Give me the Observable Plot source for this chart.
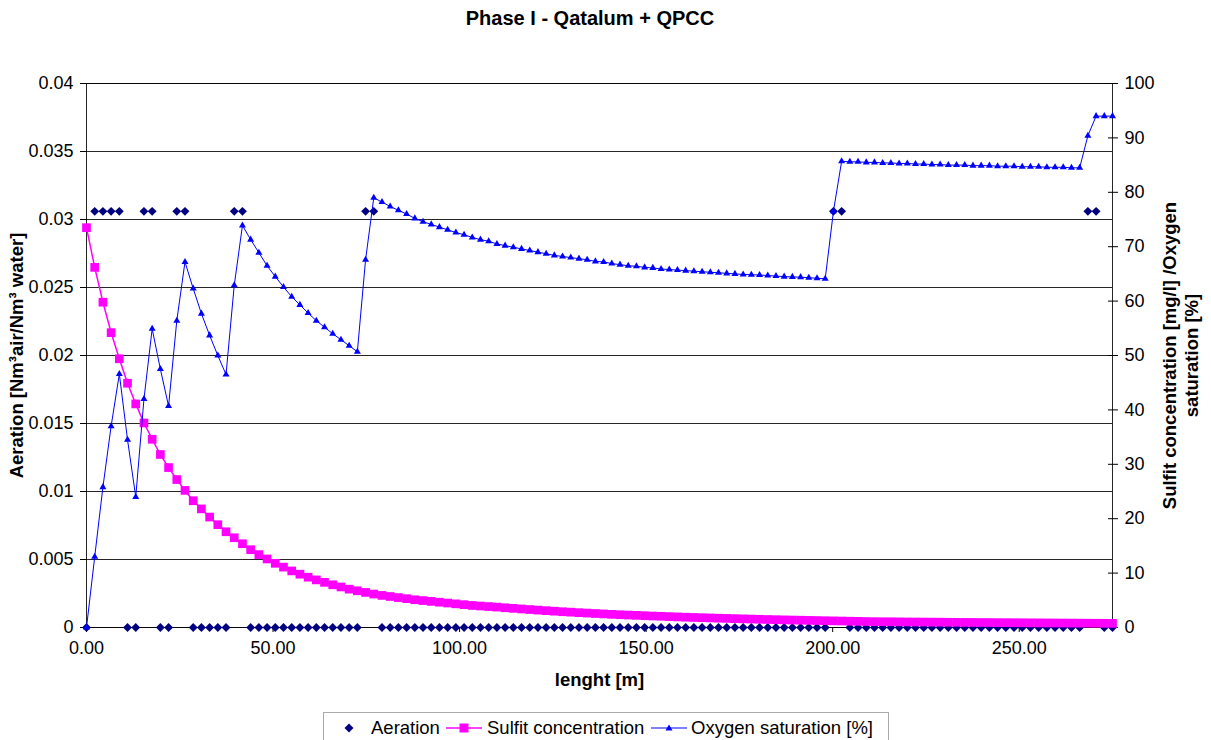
<!DOCTYPE html>
<html><head><meta charset="utf-8">
<script src="https://cdn.jsdelivr.net/npm/d3@7"></script>
<script src="https://cdn.jsdelivr.net/npm/@observablehq/plot@0.6"></script>
<style>
body{margin:0;background:#fff;font-family:"Liberation Sans",Arial,sans-serif;}
#wrap{position:relative;width:1211px;height:740px;overflow:hidden;background:#fff;}
#chart{position:absolute;left:0;top:0;}
#title{position:absolute;top:7px;left:0;width:1180px;text-align:center;font-weight:bold;font-size:20px;color:#000;}
#legend{position:absolute;left:323px;top:712px;width:566px;height:34px;border:1px solid #aaa;box-sizing:border-box;font-size:18.5px;color:#000;}
#legend .it{position:absolute;top:0;height:30px;line-height:30px;white-space:nowrap;}
#legend svg{position:absolute;top:0;}
</style>
</head><body>
<div id="wrap">
  <div id="chart"></div>
  <div id="title"></div>
  <div id="legend"></div>
</div>
<script>
const chartTitle = "Phase I - Qatalum + QPCC";
const xTitle = "lenght [m]";
const leftTitle = "Aeration [Nm³air/Nm³ water]";
const rightTitle = "Sulfit concentration [mg/l] /Oxygen\nsaturation [%]";
const seriesNames = ["Aeration", "Sulfit concentration", "Oxygen saturation [%]"];
const seriesColors = ["#000080", "#FF00FF", "#0000FF"];

const xTicks = [0, 50, 100, 150, 200, 250];
const xTickLabels = ["0.00", "50.00", "100.00", "150.00", "200.00", "250.00"];
const xMax = 275;
const leftTicks = [0, 0.005, 0.01, 0.015, 0.02, 0.025, 0.03, 0.035, 0.04];
const leftTickLabels = ["0", "0.005", "0.01", "0.015", "0.02", "0.025", "0.03", "0.035", "0.04"];
const rightTicks = [0, 10, 20, 30, 40, 50, 60, 70, 80, 90, 100];
const rightTickLabels = ["0", "10", "20", "30", "40", "50", "60", "70", "80", "90", "100"];

const lengths = [
  0, 2.2, 4.4, 6.6, 8.8, 11, 13.2, 15.4, 17.6, 19.8,
  22, 24.2, 26.4, 28.6, 30.8, 33, 35.2, 37.4, 39.6, 41.8,
  44, 46.2, 48.4, 50.6, 52.8, 55, 57.2, 59.4, 61.6, 63.8,
  66, 68.2, 70.4, 72.6, 74.8, 77, 79.2, 81.4, 83.6, 85.8,
  88, 90.2, 92.4, 94.6, 96.8, 99, 101.2, 103.4, 105.6, 107.8,
  110, 112.2, 114.4, 116.6, 118.8, 121, 123.2, 125.4, 127.6, 129.8,
  132, 134.2, 136.4, 138.6, 140.8, 143, 145.2, 147.4, 149.6, 151.8,
  154, 156.2, 158.4, 160.6, 162.8, 165, 167.2, 169.4, 171.6, 173.8,
  176, 178.2, 180.4, 182.6, 184.8, 187, 189.2, 191.4, 193.6, 195.8,
  198, 200.2, 202.4, 204.6, 206.8, 209, 211.2, 213.4, 215.6, 217.8,
  220, 222.2, 224.4, 226.6, 228.8, 231, 233.2, 235.4, 237.6, 239.8,
  242, 244.2, 246.4, 248.6, 250.8, 253, 255.2, 257.4, 259.6, 261.8,
  264, 266.2, 268.4, 270.6, 272.8, 275
];

const aeration = [
  0, 0.0306, 0.0306, 0.0306, 0.0306, 0, 0, 0.0306, 0.0306, 0,
  0, 0.0306, 0.0306, 0, 0, 0, 0, 0, 0.0306, 0.0306,
  0, 0, 0, 0, 0, 0, 0, 0, 0, 0,
  0, 0, 0, 0, 0.0306, 0.0306, 0, 0, 0, 0,
  0, 0, 0, 0, 0, 0, 0, 0, 0, 0,
  0, 0, 0, 0, 0, 0, 0, 0, 0, 0,
  0, 0, 0, 0, 0, 0, 0, 0, 0, 0,
  0, 0, 0, 0, 0, 0, 0, 0, 0, 0,
  0, 0, 0, 0, 0, 0, 0, 0, 0, 0,
  0, 0.0306, 0.0306, 0, 0, 0, 0, 0, 0, 0,
  0, 0, 0, 0, 0, 0, 0, 0, 0, 0,
  0, 0, 0, 0, 0, 0, 0, 0, 0, 0,
  0, 0, 0.0306, 0.0306, 0, 0
];

const sulfit = [
  73.5, 66.2, 59.8, 54.2, 49.4, 44.9, 41.1, 37.6, 34.6, 31.8,
  29.4, 27.2, 25.2, 23.3, 21.8, 20.3, 18.9, 17.6, 16.5, 15.4,
  14.3, 13.4, 12.6, 11.8, 11.1, 10.4, 9.8, 9.25, 8.75, 8.3,
  7.85, 7.45, 7.05, 6.75, 6.45, 6.15, 5.9, 5.7, 5.5, 5.3,
  5.1, 4.95, 4.8, 4.65, 4.5, 4.35, 4.2, 4.05, 3.95, 3.85,
  3.75, 3.63, 3.52, 3.41, 3.3, 3.2, 3.1, 3.0, 2.9, 2.82,
  2.73, 2.65, 2.57, 2.49, 2.42, 2.35, 2.29, 2.23, 2.17, 2.11,
  2.06, 2.0, 1.95, 1.9, 1.85, 1.8, 1.76, 1.71, 1.67, 1.63,
  1.59, 1.55, 1.51, 1.47, 1.44, 1.4, 1.37, 1.34, 1.31, 1.28,
  1.25, 1.22, 1.19, 1.16, 1.13, 1.1, 1.07, 1.06, 1.05, 1.04,
  1.02, 1.01, 1.0, 0.99, 0.98, 0.96, 0.95, 0.94, 0.93, 0.92,
  0.91, 0.9, 0.89, 0.88, 0.87, 0.86, 0.85, 0.84, 0.83, 0.82,
  0.81, 0.8, 0.79, 0.78, 0.77, 0.76
];

const oxygen = [
  0, 13.0, 25.8, 37.0, 46.6, 34.5, 24.0, 42.0, 54.9, 47.5,
  40.7, 56.4, 67.2, 62.3, 57.7, 53.7, 50.0, 46.5, 62.9, 73.9,
  71.3, 68.9, 66.5, 64.5, 62.6, 60.8, 59.3, 57.8, 56.4, 55.2,
  54.0, 52.9, 51.8, 50.7, 67.6, 79.0, 78.2, 77.4, 76.7, 76.0,
  75.2, 74.6, 74.1, 73.6, 73.1, 72.6, 72.2, 71.7, 71.3, 71.0,
  70.5, 70.2, 69.9, 69.6, 69.3, 69.0, 68.7, 68.4, 68.2, 68.0,
  67.8, 67.6, 67.3, 67.2, 66.9, 66.7, 66.5, 66.4, 66.2, 66.1,
  65.9, 65.8, 65.7, 65.6, 65.5, 65.4, 65.3, 65.2, 65.1, 65.0,
  64.9, 64.85, 64.8, 64.7, 64.6, 64.5, 64.45, 64.4, 64.3, 64.2,
  64.1, 76.5, 85.7, 85.6, 85.6, 85.5, 85.5, 85.4, 85.4, 85.3,
  85.3, 85.2, 85.2, 85.1, 85.1, 85.0, 85.0, 85.0, 84.9, 84.9,
  84.9, 84.8, 84.8, 84.8, 84.7, 84.7, 84.7, 84.6, 84.6, 84.6,
  84.5, 84.5, 90.4, 94.0, 94.0, 94.0
];

// right axis (0..100) is drawn on the same frame as the left axis (0..0.04)
const rightToLeft = leftTicks[leftTicks.length - 1] / rightTicks[rightTicks.length - 1];
const rows = lengths.map((x, i) => ({
  x,
  aeration: aeration[i],
  sulfit: sulfit[i] * rightToLeft,
  oxygen: oxygen[i] * rightToLeft
}));
const xLab = new Map(xTicks.map((t, i) => [t, xTickLabels[i]]));
const lLab = new Map(leftTicks.map((t, i) => [t, leftTickLabels[i]]));
const rightTickPos = rightTicks.map(t => t * rightToLeft);
const rLab = new Map(rightTickPos.map((t, i) => [t, rightTickLabels[i]]));

const font = '"Liberation Sans", Arial, sans-serif';
const chart = Plot.plot({
  width: 1211,
  height: 700,
  marginTop: 83,
  marginBottom: 73,
  marginLeft: 86,
  marginRight: 99,
  x: {domain: [0, xMax]},
  y: {domain: [leftTicks[0], leftTicks[leftTicks.length - 1]]},
  style: {fontFamily: font, fontSize: "18px", color: "#000", background: "#fff", overflow: "visible"},
  marks: [
    Plot.gridY({ticks: leftTicks, stroke: "#000", strokeOpacity: 0.85, strokeWidth: 1}),
    Plot.frame({stroke: "#000", strokeOpacity: 0.85}),
    Plot.axisY({ticks: leftTicks, tickFormat: d => lLab.get(d), tickSize: 6, tickPadding: 7, label: null, fontSize: 18}),
    Plot.axisY({ticks: rightTickPos, anchor: "right", tickFormat: d => rLab.get(d), tickSize: 10, dx: -5, tickPadding: 7, label: null, fontSize: 18}),
    Plot.axisX({ticks: xTicks, tickFormat: d => xLab.get(d), tickSize: 5, tickPadding: 9, label: null, fontSize: 18}),
    Plot.text([leftTitle], {text: d => d, frameAnchor: "left", textAnchor: "middle", dx: -69, rotate: -90, fontWeight: "bold", fontSize: 18.5}),
    Plot.text([rightTitle], {text: d => d, frameAnchor: "right", textAnchor: "middle", dx: 67, rotate: -90, fontWeight: "bold", fontSize: 18.5, lineAnchor: "middle", lineHeight: 1.2}),
    Plot.text([xTitle], {text: d => d, frameAnchor: "bottom", dy: 58, fontWeight: "bold", fontSize: 18.5}),
    Plot.dot(rows, {x: "x", y: "aeration", symbol: "diamond2", r: 4, fill: seriesColors[0], stroke: "none"}),
    Plot.line(rows, {x: "x", y: "sulfit", stroke: seriesColors[1], strokeWidth: 1.5}),
    Plot.dot(rows, {x: "x", y: "sulfit", symbol: "square", r: 4.9, fill: seriesColors[1], stroke: "none"}),
    Plot.line(rows, {x: "x", y: "oxygen", stroke: seriesColors[2], strokeWidth: 1}),
    Plot.dot(rows, {x: "x", y: "oxygen", symbol: "triangle", r: 2.6, fill: seriesColors[2], stroke: "none"})
  ]
});
document.getElementById("chart").appendChild(chart);
document.getElementById("title").textContent = chartTitle;

// legend
const lg = document.getElementById("legend");
const ns = "http://www.w3.org/2000/svg";
function addSvg(left, width, draw) {
  const s = document.createElementNS(ns, "svg");
  s.setAttribute("width", width); s.setAttribute("height", 30);
  s.style.left = left + "px";
  s.innerHTML = draw;
  lg.appendChild(s);
}
function addText(left, txt) {
  const d = document.createElement("div");
  d.className = "it"; d.style.left = left + "px"; d.textContent = txt;
  lg.appendChild(d);
}
addSvg(18, 14, `<path d="M7,10.5 L11.5,15 L7,19.5 L2.5,15 Z" fill="${seriesColors[0]}"/>`);
addText(47, seriesNames[0]);
addSvg(122, 36, `<line x1="0" y1="15" x2="36" y2="15" stroke="${seriesColors[1]}" stroke-width="1.5"/><rect x="13.5" y="10.5" width="9" height="9" fill="${seriesColors[1]}"/>`);
addText(163, seriesNames[1]);
addSvg(327, 36, `<line x1="0" y1="15" x2="36" y2="15" stroke="${seriesColors[2]}" stroke-width="1"/><path d="M18,11.5 L21.5,17.5 L14.5,17.5 Z" fill="${seriesColors[2]}"/>`);
addText(367, seriesNames[2]);
</script>
</body></html>
